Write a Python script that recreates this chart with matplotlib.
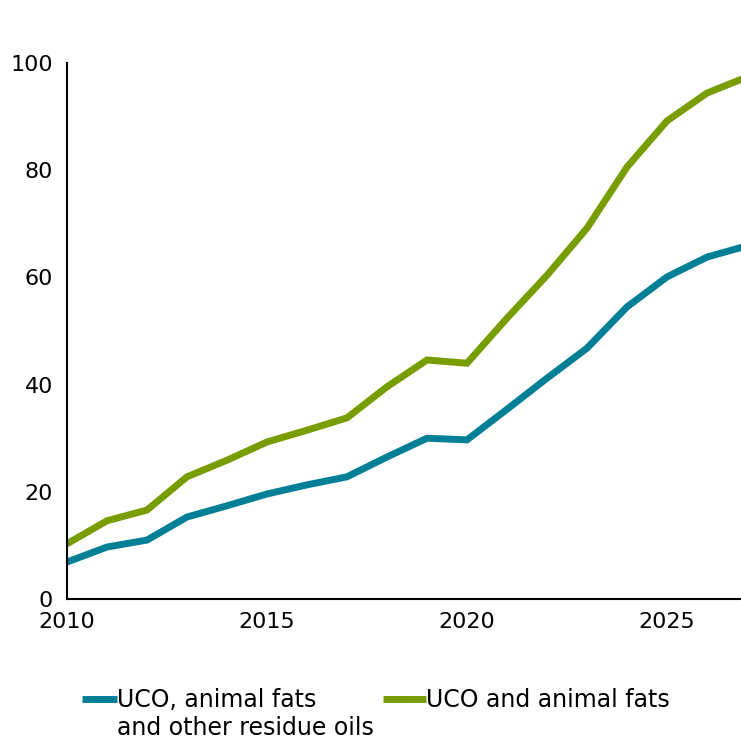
import numpy as np
import matplotlib.pyplot as plt

# valores
anios = [2010, 2011, 2012, 2013, 2014, 2015, 2016, 2017, 2018,
         2019, 2020, 2021, 2022, 2023, 2024, 2025, 2026, 2027]
uco_residuos = [6.9, 9.7, 11.0, 15.3, 17.4, 19.6, 21.3, 22.8, 26.5,
                30.0, 29.7, 35.4, 41.2, 46.8, 54.5, 60.1, 63.8, 65.9]
uco_grasas = [10.3, 14.6, 16.6, 22.8, 25.9, 29.3, 31.5, 33.8, 39.6,
              44.6, 44.0, 52.4, 60.4, 69.2, 80.6, 89.2, 94.4, 97.4]

etiquetas = ['UCO, animal fats', 'UCO and animal fats']
segunda_linea = 'and other residue oils'
colores = ['#007F96', '#789D00']

plt.rcParams['font.family'] = ['DejaVu Sans']

fig = plt.figure(figsize=(7.41, 7.41), dpi=100)
ax = fig.add_axes([0.0904, 0.1916, 0.9096, 0.7233])

l1, = ax.plot(anios, uco_residuos, color=colores[0], lw=5,
              solid_joinstyle='miter', solid_capstyle='butt')
l2, = ax.plot(anios, uco_grasas, color=colores[1], lw=5,
              solid_joinstyle='miter', solid_capstyle='butt')

ax.set_xlim(2010, 2026.85)
ax.set_ylim(0, 100)
ax.set_xticks([2010, 2015, 2020, 2025])
ax.set_yticks([0, 20, 40, 60, 80, 100])

for s in ['top', 'right']:
    ax.spines[s].set_visible(False)
for s in ['left', 'bottom']:
    ax.spines[s].set_linewidth(1.5)

ax.tick_params(axis='both', length=0, labelsize=16)
ax.tick_params(axis='y', pad=10)
ax.tick_params(axis='x', pad=9)

# leyenda: dos entradas alineadas por la primera línea
fila_y = 1 - 700 / 741
leg1 = fig.legend([l1], [etiquetas[0]], loc='center left',
                  bbox_to_anchor=(82 / 741, fila_y), frameon=False, fontsize=17,
                  handlelength=1.5, handletextpad=0.0, borderpad=0, borderaxespad=0)
leg2 = fig.legend([l2], [etiquetas[1]], loc='center left',
                  bbox_to_anchor=(383 / 741, fila_y), frameon=False, fontsize=17,
                  handlelength=1.8, handletextpad=0.0, borderpad=0, borderaxespad=0)
fig.text(117 / 741, 1 - 728 / 741, segunda_linea, fontsize=17, va='center', ha='left')

fig.savefig('out.png', dpi=100)
